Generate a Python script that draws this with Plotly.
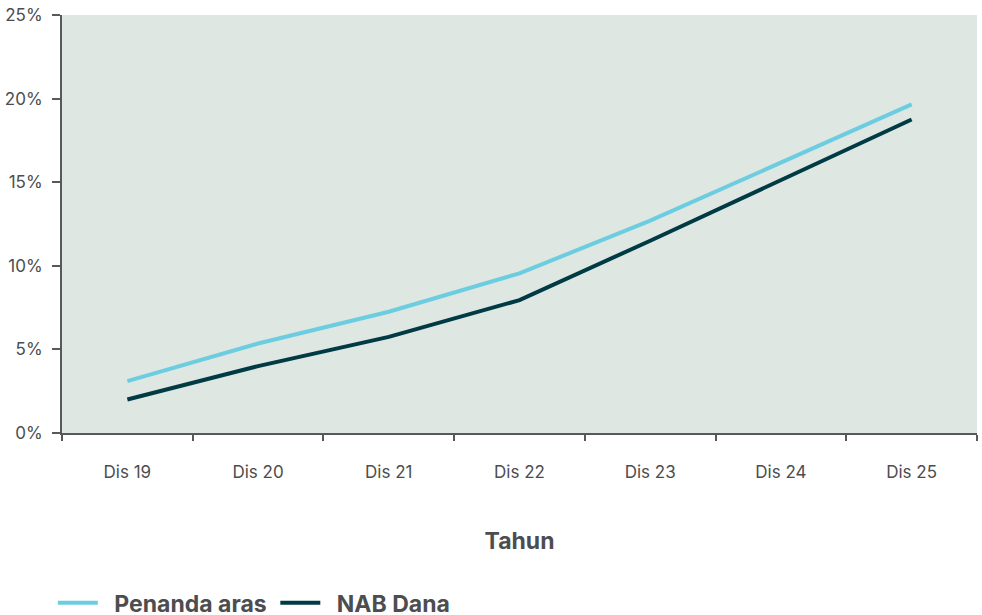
import plotly.graph_objects as go

categories = ["Dis 19", "Dis 20", "Dis 21", "Dis 22", "Dis 23", "Dis 24", "Dis 25"]
penanda_aras = [3.1, 5.35, 7.25, 9.55, 12.7, 16.2, 19.65]
nab_dana = [2.0, 4.0, 5.75, 7.95, 11.5, 15.1, 18.75]
y_ticks = [0, 5, 10, 15, 20, 25]
y_labels = ["0%", "5%", "10%", "15%", "20%", "25%"]
series_names = ["Penanda aras", "NAB Dana"]

axis_col = "#58595b"
text_col = "#4d4d4f"
font_fam = "Inter"
pad = "\u2002"

fig = go.Figure()
fig.add_trace(go.Scatter(x=categories, y=penanda_aras, mode="lines",
                         name=pad + series_names[0] + "\u2009",
                         line=dict(color="#6ccde0", width=4)))
fig.add_trace(go.Scatter(x=categories, y=nab_dana, mode="lines",
                         name=pad + series_names[1],
                         line=dict(color="#003a45", width=4)))

fig.update_layout(
    width=982, height=615,
    margin=dict(l=62, r=5, t=15, b=182, autoexpand=False),
    paper_bgcolor="white",
    plot_bgcolor="#dee7e2",
    font=dict(family=font_fam, color=text_col),
    showlegend=True,
    legend=dict(orientation="h", x=-0.01, xanchor="left", y=-0.355, yanchor="top",
                font=dict(size=23, color=text_col, family=font_fam, weight="bold"),
                itemwidth=40, traceorder="normal"),
    xaxis=dict(
        type="category", range=[-0.5, 6.5], tickson="boundaries",
        showgrid=False, zeroline=False, automargin=False,
        showline=True, linecolor=axis_col, linewidth=2,
        ticks="outside", ticklen=6, tickwidth=2, tickcolor=axis_col,
        tickfont=dict(size=17, color=text_col),
        ticklabelstandoff=23,
        title=dict(text="<b>Tahun</b>", font=dict(size=23, color=text_col), standoff=51),
    ),
    yaxis=dict(
        range=[0, 25], tickvals=y_ticks, ticktext=y_labels,
        showgrid=False, zeroline=False, automargin=False,
        showline=True, linecolor=axis_col, linewidth=2,
        ticks="outside", ticklen=8, tickwidth=2, tickcolor=axis_col,
        tickfont=dict(size=17, color=text_col),
        ticklabelstandoff=6,
    ),
)

fig.write_html("out.html", config={"displayModeBar": False},
               post_script="document.body.style.margin='0';document.body.style.overflow='hidden';")
